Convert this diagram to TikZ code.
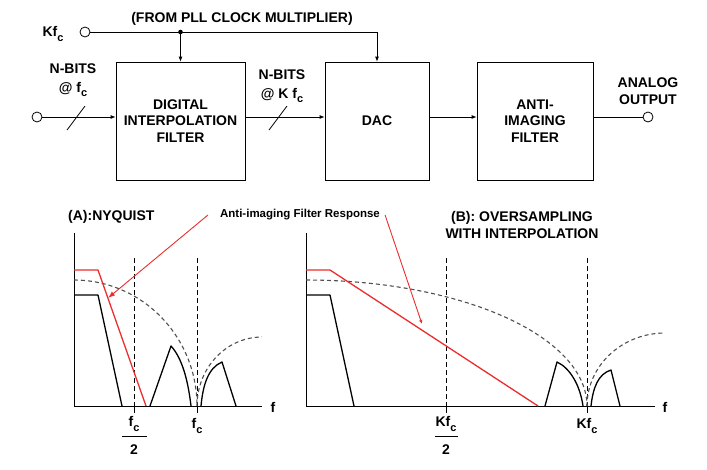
\documentclass[tikz,border=0pt]{standalone}
\usepackage{fontspec}
\setmainfont{Liberation Sans}
\usetikzlibrary{arrows.meta}
\newcommand{\subc}{\raisebox{-0.55ex}{\fontsize{11}{11}\selectfont c}}
\definecolor{annred}{RGB}{235,45,45}
\definecolor{dgray}{RGB}{80,80,80}
\begin{document}
\begin{tikzpicture}[x=1pt,y=-1pt,
  font=\fontsize{14}{16.5}\selectfont\bfseries,
  block/.style={draw, line width=0.8pt, minimum height=118pt, align=center, inner sep=0pt},
  wire/.style={line width=0.8pt},
  arr/.style={wire, -{Latex[length=5pt,width=4pt]}},
  term/.style={circle, draw, line width=0.8pt, minimum size=10pt, inner sep=0pt, fill=white},
  lbl/.style={inner sep=0pt, align=center},
  axisl/.style={line width=1pt},
  spec/.style={line width=1.3pt, line join=round},
  redspec/.style={spec, annred},
  vdash/.style={line width=1pt, dash pattern=on 5pt off 3pt},
  curve/.style={line width=1.1pt, dgray, dash pattern=on 4pt off 3pt},
  redarr/.style={line width=0.9pt, annred, -{Latex[length=7pt,width=5pt]}}
]
\useasboundingbox (0,0) rectangle (707,469);

% ---------- block diagram ----------
\node[block, minimum width=129pt] (dif) at (180.5,121) {DIGITAL\\INTERPOLATION\\FILTER};
\node[block, minimum width=104pt] (dac) at (377,121) {DAC};
\node[block, minimum width=116pt] (aif) at (535,121) {ANTI-\\IMAGING\\FILTER};

\node[term] (kin) at (85,32) {};
\node[term] (in) at (37,117) {};
\node[term] (out) at (648,117) {};

\node[lbl] (klbl) at (53,34) {Kf\subc};
\node[lbl] (pll) at (242,19) {(FROM PLL CLOCK MULTIPLIER)};
\node[lbl] (nb1) at (73,80) {N-BITS\\[2pt]@ f\subc};
\node[lbl] (nb2) at (282,86) {N-BITS\\[2pt]@ K f\subc};
\node[lbl] (aout) at (648,91) {ANALOG\\OUTPUT};

\draw[arr] (kin) -| (dac.north);
\coordinate (tap) at (dif.north |- kin);
\fill (tap) circle (2.3pt);
\draw[arr] (tap) -- (dif.north);

\draw[arr] (in) -- (in -| dif.west);
\draw[arr] (dif.east |- in) -- (dac.west |- in);
\draw[arr] (dac.east |- in) -- (aif.west |- in);
\draw[wire] (aif.east |- out) -- (out);

\draw[wire] (67,130) -- (85,106);
\draw[wire] (269,130) -- (287,106);

% ---------- plot A ----------
\node[lbl, anchor=west] (ta) at (68,217) {(A):NYQUIST};
\draw[axisl] (74,233) -- (74,406) -- (262,406);
\node[lbl] (fa) at (273,407) {f};

\draw[vdash] (134,258) -- (134,406);
\draw[axisl] (134,406) -- (134,413);
\draw[vdash] (197,258) -- (197,406);
\draw[axisl] (197,406) -- (197,413);

\draw[curve] plot[domain=0:90, samples=45, smooth] ({74+123*sin(\x)},{406-126*cos(\x)});
\draw[curve] plot[domain=0:90, samples=30, smooth] ({197+65*(1-cos(\x))},{406-69*sin(\x)});

\draw[spec] (74,295) -- (98,295) -- (122,406);
\draw[redspec] (74,270) -- (98,270) -- (146,406);
\draw[spec] (150,406) -- (171,346) .. controls (182,358) and (188,380) .. (191,406);
\draw[spec] (201,406) .. controls (203,385) and (208,368) .. (222,362) -- (236,406);

\node[lbl] (fa1) at (134,424) {f\subc};
\draw[wire] (122,436) -- (147,436);
\node[lbl] (fa2) at (134,450) {2};
\node[lbl] (fa3) at (197,426) {f\subc};

% ---------- plot B ----------
\node[lbl] (tb) at (522,225) {(B): OVERSAMPLING\\WITH INTERPOLATION};
\draw[axisl] (306,233) -- (306,406) -- (655,406);
\node[lbl] (fb) at (665,407) {f};

\draw[vdash] (446,258) -- (446,406);
\draw[axisl] (446,406) -- (446,413);
\draw[vdash] (587,258) -- (587,406);
\draw[axisl] (587,406) -- (587,413);

\draw[curve] plot[domain=0:90, samples=50, smooth] ({306+281*sin(\x)},{406-126*cos(\x)});
\draw[curve] plot[domain=0:90, samples=30, smooth] ({587+78*(1-cos(\x))},{406-73*sin(\x)});

\draw[spec] (306,295) -- (330,295) -- (354,406);
\draw[redspec] (306,270) -- (330,270) -- (538,406);
\draw[spec] (545,406) -- (557,362) .. controls (570,368) and (580,385) .. (583,406);
\draw[spec] (591,406) .. controls (593,388) and (598,374) .. (611,370) -- (620,406);

\node[lbl] (fb1) at (446,424) {Kf\subc};
\draw[wire] (435,436) -- (458,436);
\node[lbl] (fb2) at (446,450) {2};
\node[lbl] (fb3) at (587,426) {Kf\subc};

% ---------- annotation ----------
\node[lbl, font=\fontsize{11.5}{13}\selectfont\bfseries] (ann) at (300,215) {Anti-imaging Filter Response};
\coordinate (tipA) at (108,298);
\coordinate (tipB) at (422,324);
\draw[redarr] ([xshift=-12pt]ann.west) -- (tipA);
\draw[redarr, -{Latex[length=4pt,width=3.5pt]}] ([xshift=5pt]ann.east) -- (tipB);
\end{tikzpicture}
\end{document}
